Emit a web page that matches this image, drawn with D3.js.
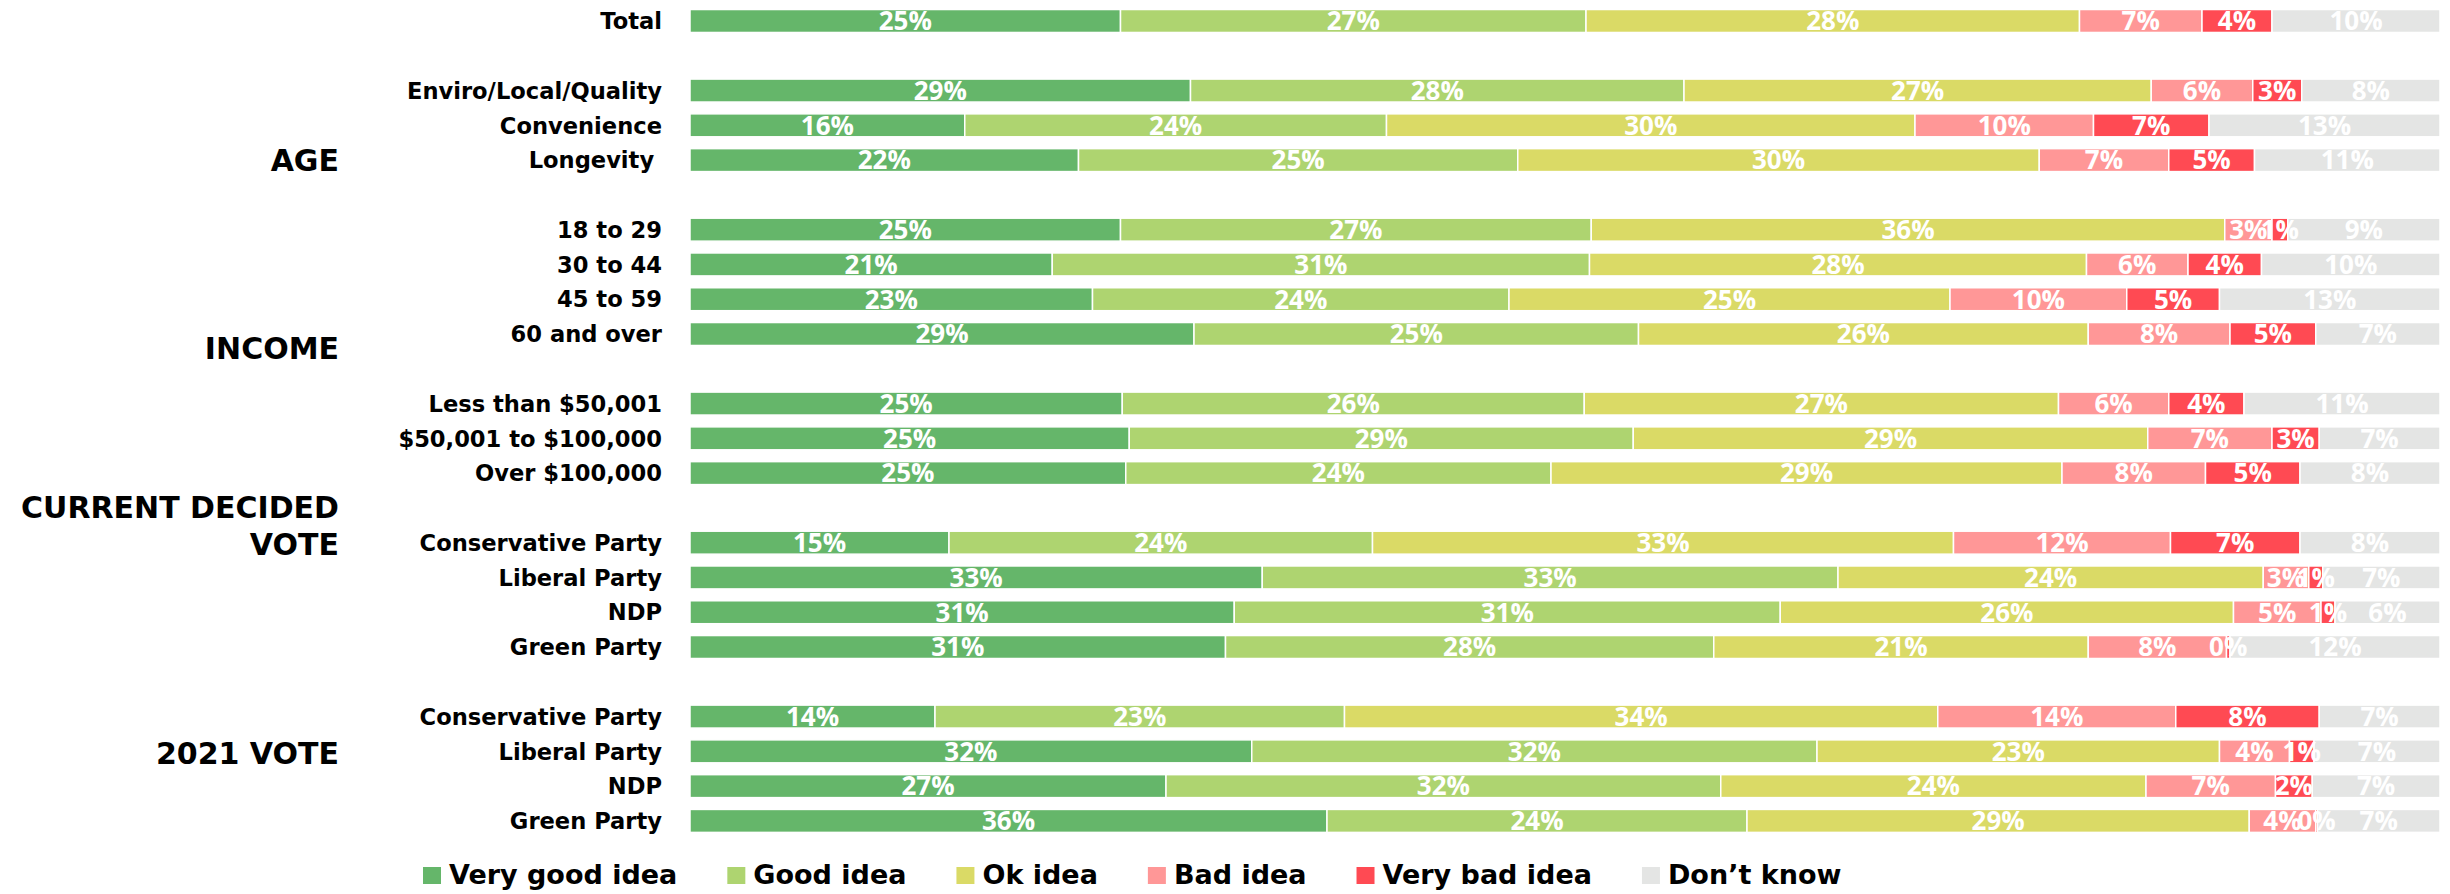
<!DOCTYPE html>
<html>
<head>
<meta charset="utf-8">
<script src="https://cdn.jsdelivr.net/npm/d3@7"></script>
<style>
  html, body { margin: 0; padding: 0; background: #ffffff; }
  svg { display: block; }
  text { white-space: pre; }
</style>
</head>
<body>
<script>
// ---------------- DATA ----------------
const rowGroups = [
  ["Total"],
  ["Enviro/Local/Quality", "Convenience", "Longevity "],
  ["18 to 29", "30 to 44", "45 to 59", "60 and over"],
  ["Less than $50,001", "$50,001 to $100,000", "Over $100,000"],
  ["Conservative Party", "Liberal Party", "NDP", "Green Party"],
  ["Conservative Party", "Liberal Party", "NDP", "Green Party"]
];
const groupLabels = [["AGE"], ["INCOME"], ["CURRENT DECIDED", "VOTE"], ["2021 VOTE"]];
const seriesNames = ["Very good idea", "Good idea", "Ok idea", "Bad idea", "Very bad idea", "Don\u2019t know"];

const veryGood = [24.6, 28.6, 15.7, 22.2, 24.6, 20.7, 23.0, 28.8, 24.7, 25.1, 24.9, 14.8, 32.7, 31.1, 30.6, 14.0, 32.1, 27.2, 36.4];
const good     = [26.6, 28.2, 24.1, 25.1, 26.9, 30.7, 23.8, 25.4, 26.4, 28.8, 24.3, 24.2, 32.9, 31.2, 27.9, 23.4, 32.3, 31.7, 24.0];
const okIdea   = [28.2, 26.7, 30.2, 29.8, 36.2, 28.4, 25.2, 25.7, 27.1, 29.4, 29.2, 33.2, 24.3, 25.9, 21.4, 33.9, 23.0, 24.3, 28.7];
const bad      = [7.0, 5.8, 10.2, 7.4, 2.7, 5.8, 10.1, 8.1, 6.3, 7.1, 8.2, 12.4, 2.6, 5.0, 7.9, 13.6, 4.0, 7.4, 3.8];
const veryBad  = [4.0, 2.8, 6.6, 4.9, 0.9, 4.2, 5.3, 4.9, 4.3, 2.7, 5.4, 7.4, 0.8, 0.8, 0.2, 8.2, 1.4, 2.1, 0.1];
const dontKnow = [9.6, 7.9, 13.2, 10.6, 8.7, 10.2, 12.6, 7.1, 11.2, 6.9, 8.0, 8.0, 6.7, 6.0, 12.0, 6.9, 7.2, 7.3, 7.0];

// ---------------- LAYOUT / STYLE ----------------
const W = 2450, H = 894;
const colors = ["#65B66A", "#AED470", "#DADA66", "#FF9797", "#FF4A53", "#E4E5E4"];
const keys = ["veryGood", "good", "okIdea", "bad", "veryBad", "dontKnow"];
const layout = {
  barLeft: 690, barRight: 2440,
  yTop: 3.6, yBottom: 838.3,
  labelRight: 662,
  groupRight: 339,
  groupAnchors: [4, 9.42, 14.52, 21.05],
  groupLineGap: 37,
  legendX: 423, legendBaseline: 884, legendGap: 50
};

// build table with slots (blank slot between groups)
const table = [];
let slot = 0, idx = 0;
rowGroups.forEach((g, gi) => {
  if (gi > 0) slot += 1;
  g.forEach(cat => {
    table.push({
      category: cat, slot: slot,
      veryGood: veryGood[idx], good: good[idx], okIdea: okIdea[idx],
      bad: bad[idx], veryBad: veryBad[idx], dontKnow: dontKnow[idx]
    });
    slot += 1; idx += 1;
  });
});
const nSlots = slot;

const svg = d3.select("body").append("svg").attr("width", W).attr("height", H);

const x = d3.scaleLinear().domain([0, 100]).range([layout.barLeft, layout.barRight]);
const y = d3.scaleBand().domain(d3.range(nSlots)).range([layout.yTop, layout.yBottom])
  .paddingInner(0.34).paddingOuter(0.17);
const bw = y.bandwidth();
const slotCenter = d3.scaleLinear().domain([0, nSlots - 1])
  .range([y(0) + bw / 2, y(nSlots - 1) + bw / 2]);

const stacked = d3.stack().keys(keys)(table);

// bars
const layers = svg.append("g").selectAll("g").data(stacked).join("g")
  .attr("fill", (d, i) => colors[i]);
layers.selectAll("rect").data(d => d).join("rect")
  .attr("x", d => x(d[0]))
  .attr("y", d => y(d.data.slot))
  .attr("width", d => Math.max(0, x(d[1]) - x(d[0])))
  .attr("height", bw)
  .attr("stroke", "#ffffff")
  .attr("stroke-width", 1.5);

// value labels
const labelG = svg.append("g")
  .attr("font-family", "'Open Sans', 'Noto Sans', sans-serif")
  .attr("font-weight", 700)
  .attr("font-size", 26)
  .attr("fill", "#ffffff")
  .attr("text-anchor", "middle");
stacked.forEach(layer => {
  layer.forEach(d => {
    labelG.append("text")
      .attr("x", (x(d[0]) + x(d[1])) / 2)
      .attr("y", y(d.data.slot) + bw / 2 + 9.3)
      .text(Math.round(d[1] - d[0]) + "%");
  });
});

// category labels
svg.append("g")
  .attr("font-family", "'DejaVu Sans', sans-serif")
  .attr("font-weight", 700)
  .attr("font-size", 22.6)
  .attr("fill", "#000")
  .attr("text-anchor", "end")
  .selectAll("text").data(table).join("text")
  .attr("x", layout.labelRight)
  .attr("y", d => y(d.slot) + bw / 2 + 8.2)
  .text(d => d.category);

// group labels
const gl = svg.append("g")
  .attr("font-family", "'DejaVu Sans', sans-serif")
  .attr("font-weight", 700)
  .attr("font-size", 30)
  .attr("fill", "#000")
  .attr("text-anchor", "end");
groupLabels.forEach((lines, i) => {
  const cy = slotCenter(layout.groupAnchors[i]);
  const n = lines.length;
  lines.forEach((ln, j) => {
    gl.append("text")
      .attr("x", layout.groupRight)
      .attr("y", cy + 10.8 + (j - (n - 1) / 2) * layout.groupLineGap)
      .text(ln);
  });
});

// legend
const lg = svg.append("g")
  .attr("font-family", "'DejaVu Sans', sans-serif")
  .attr("font-weight", 700)
  .attr("font-size", 27)
  .attr("fill", "#000");
let lx = layout.legendX;
seriesNames.forEach((name, i) => {
  lg.append("rect")
    .attr("x", lx).attr("y", layout.legendBaseline - 17)
    .attr("width", 18).attr("height", 17)
    .attr("fill", colors[i]);
  const t = lg.append("text")
    .attr("x", lx + 26).attr("y", layout.legendBaseline)
    .text(name);
  lx = lx + 26 + t.node().getComputedTextLength() + layout.legendGap;
});
</script>
</body>
</html>
